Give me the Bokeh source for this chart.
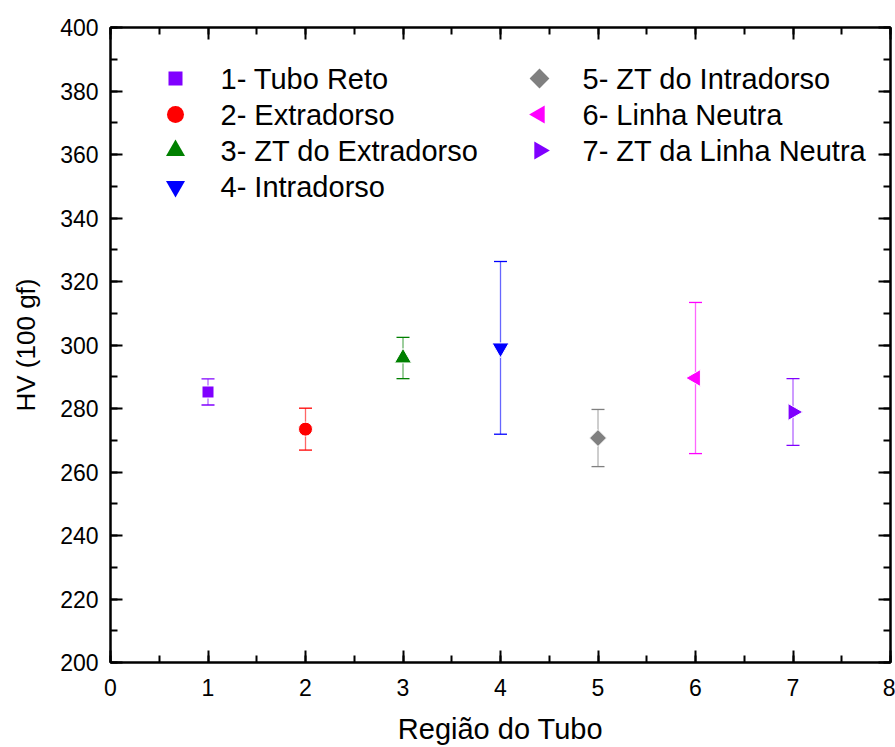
import math
from bokeh.plotting import figure
from bokeh.models import (ColumnDataSource, Whisker, TeeHead, LinearAxis, Range1d,
                          SingleIntervalTicker)
from bokeh.core.properties import value
from bokeh.embed import file_html
from bokeh.resources import INLINE

# ---- data ----
regions = [1, 2, 3, 4, 5, 6, 7]
labels = ["1- Tubo Reto", "2- Extradorso", "3- ZT do Extradorso", "4- Intradorso",
          "5- ZT do Intradorso", "6- Linha Neutra", "7- ZT da Linha Neutra"]
hv_mean = [285.2, 273.5, 295.9, 299.1, 270.7, 289.6, 278.9]
hv_err = [4.1, 6.6, 6.5, 27.2, 9.0, 23.8, 10.5]

# ---- styles ----
colors = ["#8000FF", "#FF0000", "#008000", "#0000FF", "#808080", "#FF00FF", "#8000FF"]
markers = ["square", "circle", "triangle", "inverted_triangle", "square", "triangle", "triangle"]
angles = [0, 0, 0, 0, math.pi / 4, math.pi / 2, -math.pi / 2]
sizes = [12, 14, 17, 17, 12, 17, 17]          # plot marker sizes (px)
leg_sizes = [14, 17, 19, 19, 14, 18, 18]      # legend marker sizes (px)

FONT = "Liberation Sans"

# ---- layout (px) ----
W, H = 895, 747
BL, BR, BT, BB = 110, 5, 27, 85
X0, X1, Y0, Y1 = 0, 8, 200, 400
FW, FH = W - BL - BR, H - BT - BB

p = figure(width=W, height=H, output_backend="svg", toolbar_location=None,
           x_range=Range1d(X0, X1), y_range=Range1d(Y0, Y1),
           min_border_left=BL, min_border_right=BR, min_border_top=BT, min_border_bottom=BB)
p.grid.visible = False
p.outline_line_color = "black"
p.outline_line_width = 2
p.background_fill_color = "white"

def style_axis(ax, show_labels):
    ax.axis_line_width = 2
    ax.major_tick_line_width = 2
    ax.minor_tick_line_width = 2
    ax.major_tick_in = 12
    ax.major_tick_out = 0
    ax.minor_tick_in = 7
    ax.minor_tick_out = 0
    if show_labels:
        ax.major_label_text_font = FONT
        ax.major_label_text_font_size = "23px"
        ax.major_label_text_color = "black"
        ax.axis_label_text_font = FONT
        ax.axis_label_text_font_style = "normal"
        ax.axis_label_text_color = "black"
    else:
        ax.major_label_text_font_size = "0px"
        ax.major_label_standoff = 0
        ax.major_label_text_color = None

style_axis(p.xaxis[0], True)
style_axis(p.yaxis[0], True)
p.xaxis[0].ticker = SingleIntervalTicker(interval=1, num_minor_ticks=2)
p.yaxis[0].ticker = SingleIntervalTicker(interval=20, num_minor_ticks=2)
p.xaxis[0].axis_label = "Região do Tubo"
p.yaxis[0].axis_label = "HV (100 gf)"
p.xaxis[0].axis_label_text_font_size = "29px"
p.yaxis[0].axis_label_text_font_size = "26px"
p.xaxis[0].major_label_standoff = 16
p.yaxis[0].major_label_standoff = 12
p.xaxis[0].axis_label_standoff = 14
p.yaxis[0].axis_label_standoff = 16

top = LinearAxis(ticker=SingleIntervalTicker(interval=1, num_minor_ticks=2))
right = LinearAxis(ticker=SingleIntervalTicker(interval=20, num_minor_ticks=2))
style_axis(top, False)
style_axis(right, False)
p.add_layout(top, "above")
p.add_layout(right, "right")

# ---- data marks ----
for i in range(len(regions)):
    src = ColumnDataSource(dict(x=[regions[i]], y=[hv_mean[i]],
                                upper=[hv_mean[i] + hv_err[i]],
                                lower=[hv_mean[i] - hv_err[i]]))
    w = Whisker(base="x", upper="upper", lower="lower", source=src,
                line_color=colors[i], line_alpha=0.6, line_width=1.3,
                upper_head=TeeHead(size=13, line_color=colors[i], line_width=1.3),
                lower_head=TeeHead(size=13, line_color=colors[i], line_width=1.3))
    p.add_layout(w)
    p.scatter("x", "y", source=src, marker=markers[i], size=sizes[i], angle=angles[i],
              fill_color=colors[i], line_color="white", line_width=1)

# ---- legend (two columns), placed in frame pixels, converted to data space ----
def px_to_x(px):
    return X0 + (px / FW) * (X1 - X0)

def py_to_y(py):  # py measured down from frame top
    return Y1 - (py / FH) * (Y1 - Y0)

col_marker_px = [65, 429]
col_text_px = [110, 472]
row0_px, row_step_px = 51, 36
for i in range(len(labels)):
    col = 0 if i < 4 else 1
    row = i if i < 4 else i - 4
    ly = py_to_y(row0_px + row * row_step_px)
    p.scatter([px_to_x(col_marker_px[col])], [ly], marker=markers[i], size=leg_sizes[i],
              angle=angles[i], fill_color=colors[i], line_color=None)
    p.text([px_to_x(col_text_px[col])], [ly], text=[labels[i]],
           text_font=value(FONT), text_font_size="29px", text_color="black",
           text_baseline="middle", text_align="left")

open("out.html", "w").write(file_html(p, INLINE))
